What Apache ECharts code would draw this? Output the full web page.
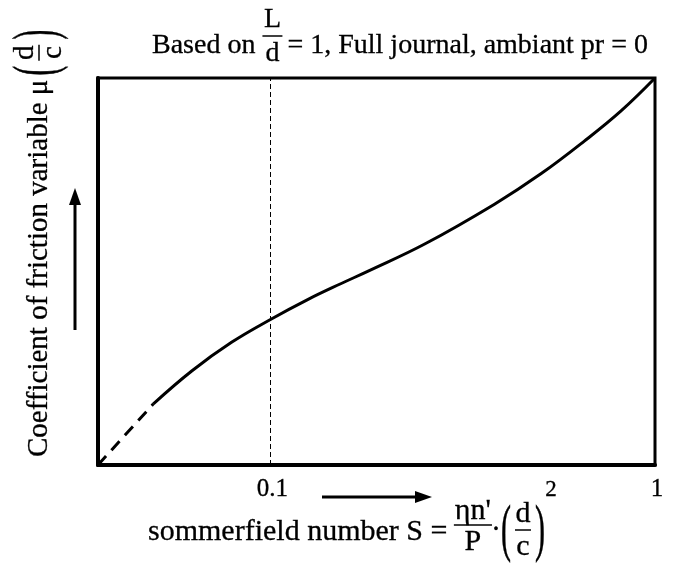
<!DOCTYPE html>
<html>
<head>
<meta charset="utf-8">
<script src="https://cdn.jsdelivr.net/npm/echarts@6/dist/echarts.min.js"></script>
<style>
  html, body { margin: 0; padding: 0; background: #fff; }
  #chart { width: 673px; height: 572px; }
</style>
</head>
<body>
<div id="chart"></div>
<script>
// Sommerfield number S along the curve (log axis)
const sommerfield = [0.0496, 0.0624, 0.0792, 0.1, 0.1253, 0.1528, 0.1795, 0.2518, 0.3825, 0.506, 0.655, 0.816, 1];
// Coefficient of friction variable mu(d/c), relative to the plot height
const friction = [0.158, 0.243, 0.317, 0.376, 0.428, 0.469, 0.501, 0.571, 0.674, 0.753, 0.837, 0.915, 1];
// Extrapolated start of the curve, drawn dashed
const sommerfieldExtrap = [0.0356, 0.0496];
const frictionExtrap = [0, 0.158];
// Tick labels on the S axis
const sTicks = [0.1, 1];
const sTickLabels = ['0.1', '1'];
// Vertical reference line
const sMarker = 0.1;

const FONT = 'Liberation Serif';
const ctx = document.createElement('canvas').getContext('2d');
function measure(text, size) {
  ctx.font = size + 'px "' + FONT + '"';
  return ctx.measureText(text).width;
}
function txt(text, x, y, size, align, extra) {
  return Object.assign({
    type: 'text', x: x, y: y, silent: true,
    style: { text: text, fontSize: size, fontFamily: FONT, fill: '#000',
             stroke: '#000', lineWidth: 0.3,
             align: align || 'left', verticalAlign: 'middle' }
  }, extra || {});
}
function bar(x1, x2, y, w) {
  return { type: 'line', silent: true, shape: { x1: x1, y1: y, x2: x2, y2: y },
           style: { stroke: '#000', lineWidth: w || 1.5 } };
}
// tall bracket: a stretched glyph
function paren(ch, x, y, size, sy) {
  return { type: 'group', x: x, y: y, scaleY: sy, silent: true,
           children: [txt(ch, 0, 0, size, 'center')] };
}

const graphics = [];

// ---- title: Based on L/d = 1, Full journal, ambiant pr = 0
(function () {
  const size = 28, x0 = 152, ym = 46;
  const head = 'Based on ';
  const w1 = measure(head, size);
  graphics.push(txt(head, x0, ym, size));
  const fx = x0 + w1 + 10;
  graphics.push(txt('L', fx, 20, size, 'center'));
  graphics.push(bar(fx - 10, fx + 10, 36));
  graphics.push(txt('d', fx, 54, size, 'center'));
  graphics.push(txt('= 1, Full journal, ambiant pr = 0', fx + 15, ym, size));
})();

// ---- x-axis title: sommerfield number S = (eta n'/P)(d/c)^2
(function () {
  const size = 30, x0 = 148, ym = 532;
  const head = 'sommerfield number S = ';
  const w1 = measure(head, size);
  graphics.push(txt(head, x0, ym, size));
  const wn = measure('\u03b7n\'', size);
  const fx = x0 + w1 + wn / 2;
  graphics.push(txt('\u03b7n\'', fx, 511, size, 'center'));
  graphics.push(bar(fx - wn / 2 - 1, fx + wn / 2 + 1, 525));
  graphics.push(txt('P', fx, 542, size, 'center'));
  const dotX = fx + wn / 2 + 5;
  graphics.push(txt('\u00b7', dotX, 530, size, 'center'));
  const pl = dotX + 10;
  graphics.push(paren('(', pl, 532, size, 2.1));
  const dx = pl + 17;
  graphics.push(txt('d', dx, 514, size, 'center'));
  graphics.push(bar(dx - 8, dx + 8, 530));
  graphics.push(txt('c', dx, 547, size, 'center'));
  graphics.push(paren(')', dx + 17, 532, size, 2.1));
  graphics.push(txt('2', dx + 28, 490, 23, 'center'));
})();

// ---- y-axis title, rotated: Coefficient of friction variable mu(d/c)
(function () {
  const size = 29;
  const head = 'Coefficient of friction variable \u03bc';
  const w1 = measure(head, size);
  const pl = w1 + 9;
  const dx = pl + 18;
  graphics.push({
    type: 'group', x: 39, y: 457, rotation: Math.PI / 2, silent: true,
    children: [
      txt(head, 0, 0, size),
      paren('(', pl, 0, size, 2.1),
      txt('d', dx, -14, size, 'center'),
      bar(dx - 8, dx + 8, 0),
      txt('c', dx, 14, size, 'center'),
      paren(')', dx + 18, 0, size, 2.1)
    ]
  });
})();

// ---- direction arrows
graphics.push({ type: 'line', silent: true, shape: { x1: 75, y1: 330, x2: 75, y2: 200 },
                style: { stroke: '#000', lineWidth: 3 } });
graphics.push({ type: 'polygon', silent: true, shape: { points: [[75, 188], [69, 205], [81, 205]] },
                style: { fill: '#000' } });
graphics.push({ type: 'line', silent: true, shape: { x1: 322, y1: 497, x2: 418, y2: 497 },
                style: { stroke: '#000', lineWidth: 3 } });
graphics.push({ type: 'polygon', silent: true, shape: { points: [[432, 497], [415, 491], [415, 503]] },
                style: { fill: '#000' } });

const chart = echarts.init(document.getElementById('chart'), null, { renderer: 'canvas' });
chart.setOption({
  backgroundColor: '#fff',
  animation: false,
  grid: { left: 98, top: 78, width: 557, height: 387, show: true,
          borderColor: '#000', borderWidth: 3, containLabel: false },
  xAxis: {
    type: 'log', logBase: 10, min: sommerfieldExtrap[0], max: 1,
    axisLine: { show: true, onZero: false, lineStyle: { color: '#000', width: 4 } },
    axisTick: { show: false }, minorTick: { show: false },
    splitLine: { show: false }, minorSplitLine: { show: false },
    axisLabel: {
      showMinLabel: false, showMaxLabel: true, hideOverlap: false,
      margin: 12, color: '#000', fontFamily: FONT, fontSize: 25,
      formatter: function (v) {
        const i = sTicks.findIndex(function (t) { return Math.abs(Math.log10(v / t)) < 1e-6; });
        return i >= 0 ? '{t|' + sTickLabels[i] + '}' : '';
      },
      rich: { t: { fontSize: 25, fontFamily: FONT, color: '#000', padding: [0, 0, 0, 4],
                   textBorderColor: '#000', textBorderWidth: 0.3 } }
    }
  },
  yAxis: {
    type: 'value', min: 0, max: 1,
    axisLine: { show: true, onZero: false, lineStyle: { color: '#000', width: 4 } },
    axisTick: { show: false }, axisLabel: { show: false }, splitLine: { show: false }
  },
  series: [
    {
      type: 'line', symbol: 'none', smooth: 0.4,
      data: sommerfield.map(function (s, i) { return [s, friction[i]]; }),
      lineStyle: { color: '#000', width: 3 },
      markLine: {
        silent: true, symbol: 'none', label: { show: false },
        lineStyle: { color: '#000', width: 1, type: [5, 3] },
        data: [{ xAxis: sMarker }]
      }
    },
    {
      type: 'line', symbol: 'none',
      data: sommerfieldExtrap.map(function (s, i) { return [s, frictionExtrap[i]]; }),
      lineStyle: { color: '#000', width: 3, type: [12, 8] }
    }
  ],
  graphic: graphics
});
</script>
</body>
</html>
